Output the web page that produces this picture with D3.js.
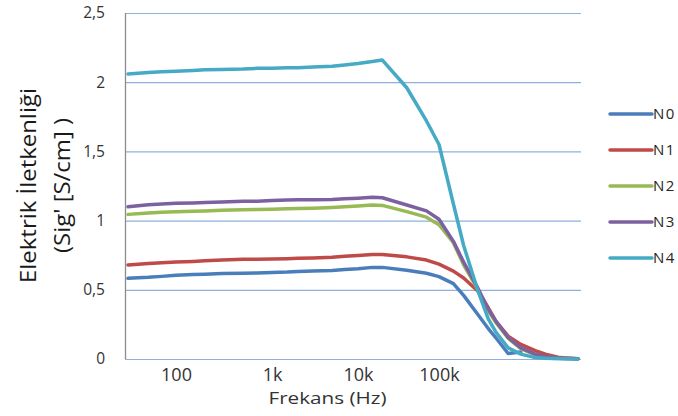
<!DOCTYPE html>
<html>
<head>
<meta charset="utf-8">
<script src="https://cdn.jsdelivr.net/npm/d3@7"></script>
<style>
  body { margin: 0; background: #fff; }
  text { font-family: "Open Sans", sans-serif; }
</style>
</head>
<body>
<div id="chart"></div>
<script>
// frequencies (Hz) of the measured points
const freqs = [30, 50, 70, 100, 150, 200, 300, 500, 700, 1e3, 1.5e3, 2e3, 3e3, 5e3, 7e3,
  1e4, 1.5e4, 2e4, 4e4, 7e4, 1e5, 1.5e5, 2e5, 3e5, 4e5, 5e5, 7e5, 1e6, 1.5e6, 2e6, 3e6, 5e6];

const n0 = [0.583, 0.59, 0.597, 0.605, 0.61, 0.613, 0.617, 0.62, 0.622, 0.625, 0.628, 0.632, 0.636, 0.64, 0.647,
  0.652, 0.662, 0.662, 0.642, 0.62, 0.595, 0.545, 0.46, 0.32, 0.22, 0.15, 0.04, 0.05, null, null, null, null];
const n1 = [0.68, 0.69, 0.695, 0.70, 0.705, 0.71, 0.715, 0.72, 0.72, 0.722, 0.725, 0.728, 0.73, 0.735, 0.742,
  0.748, 0.755, 0.755, 0.738, 0.715, 0.685, 0.635, 0.585, 0.49, 0.37, 0.27, 0.165, 0.105, 0.06, 0.035, 0.01, 0.002];
const n2 = [1.045, 1.055, 1.06, 1.064, 1.068, 1.07, 1.075, 1.078, 1.08, 1.082, 1.085, 1.088, 1.09, 1.095, 1.10,
  1.105, 1.112, 1.11, 1.065, 1.025, 0.97, 0.84, 0.68, 0.50, 0.35, 0.26, 0.15, 0.075, 0.03, 0.015, 0.005, 0.002];
const n3 = [1.10, 1.115, 1.12, 1.125, 1.128, 1.13, 1.135, 1.14, 1.14, 1.145, 1.148, 1.15, 1.15, 1.152, 1.158,
  1.162, 1.168, 1.165, 1.113, 1.07, 1.01, 0.85, 0.70, 0.51, 0.36, 0.27, 0.155, 0.08, 0.035, 0.018, 0.006, 0.002];
const n4 = [2.06, 2.07, 2.075, 2.08, 2.085, 2.09, 2.092, 2.095, 2.10, 2.10, 2.105, 2.105, 2.11, 2.115, 2.125,
  2.135, 2.15, 2.16, 1.96, 1.72, 1.55, 1.12, 0.82, 0.49, 0.29, 0.19, 0.08, 0.035, 0.01, 0.005, 0.002, 0];

const seriesNames = ["N0", "N1", "N2", "N3", "N4"];
const seriesValues = [n0, n1, n2, n3, n4];
const colors = ["#4A7EBB", "#BE4B48", "#98B954", "#7D60A0", "#46AAC5"];

const yTicks = [0, 0.5, 1, 1.5, 2, 2.5];
const xTicks = [100, 1e3, 1e4, 1e5];
const xLabels = ["100", "1k", "10k", "100k"];

const W = 678, H = 416;
const plot = {left: 125, right: 581, top: 13, bottom: 359};

const svg = d3.select("#chart").append("svg")
  .attr("width", W)
  .attr("height", H);

// category-like frequency axis: the labelled decades are not evenly spaced
const x = d3.scaleLog()
  .domain([30, 100, 1e3, 1e4, 1e5, 5e6])
  .range([128, 176, 272, 358, 439, 578]);

const y = d3.scaleLinear()
  .domain([0, 2.5])
  .range([plot.bottom, plot.top]);

// gridlines
svg.append("g")
  .selectAll("line")
  .data(yTicks)
  .join("line")
    .attr("x1", plot.left)
    .attr("x2", plot.right)
    .attr("y1", d => y(d) + 0.5)
    .attr("y2", d => y(d) + 0.5)
    .attr("stroke", "#8EB0DC")
    .attr("stroke-width", 1.2);

// y axis line
svg.append("line")
  .attr("x1", plot.left + 0.5).attr("x2", plot.left + 0.5)
  .attr("y1", plot.top).attr("y2", plot.bottom)
  .attr("stroke", "#8C8C8C")
  .attr("stroke-width", 1.3);

// y tick labels
svg.append("g")
  .attr("transform", `translate(${plot.left - 20},0)`)
  .call(d3.axisLeft(y).tickValues(yTicks).tickSize(0).tickPadding(0)
    .tickFormat(d => d3.format("~g")(d).replace(".", ",")))
  .call(g => g.select(".domain").remove())
  .selectAll("text")
    .style("font-size", "15.5px")
    .style("font-family", "Open Sans")
    .attr("fill", "#333");

// x tick labels
svg.append("g")
  .attr("transform", `translate(0,${plot.bottom})`)
  .call(d3.axisBottom(x).tickValues(xTicks).tickSize(0).tickPadding(9)
    .tickFormat((d, i) => xLabels[i]))
  .call(g => g.select(".domain").remove())
  .selectAll("text")
    .style("font-size", "18px")
    .style("font-family", "Open Sans")
    .attr("fill", "#333");

// x title
svg.append("text")
  .attr("x", 327.5)
  .attr("y", 404)
  .attr("text-anchor", "middle")
  .attr("textLength", 118)
  .attr("lengthAdjust", "spacingAndGlyphs")
  .style("font-size", "17px")
  .attr("fill", "#333")
  .text("Frekans (Hz)");

// y title, two lines
svg.append("text")
  .attr("transform", "translate(36,185.5) rotate(-90)")
  .attr("text-anchor", "middle")
  .attr("textLength", 195)
  .attr("lengthAdjust", "spacingAndGlyphs")
  .style("font-size", "22px")
  .attr("fill", "#1a1a1a")
  .text("Elektrik İletkenliği");

svg.append("text")
  .attr("transform", "translate(70,185.5) rotate(-90)")
  .attr("text-anchor", "middle")
  .attr("textLength", 135)
  .attr("lengthAdjust", "spacingAndGlyphs")
  .style("font-size", "22px")
  .attr("fill", "#1a1a1a")
  .text("(Sig' [S/cm] )");

// series lines
const line = d3.line()
  .defined(d => d[1] != null)
  .x(d => x(d[0]))
  .y(d => y(d[1]));

svg.append("g")
  .selectAll("path")
  .data(seriesValues)
  .join("path")
    .attr("d", vals => line(freqs.map((f, i) => [f, vals[i]])))
    .attr("fill", "none")
    .attr("stroke", (d, i) => colors[i])
    .attr("stroke-width", 3.5)
    .attr("stroke-linejoin", "round")
    .attr("stroke-linecap", "round");

// legend
const legend = svg.append("g")
  .selectAll("g")
  .data(seriesNames)
  .join("g")
    .attr("transform", (d, i) => `translate(610,${114 + i * 36})`);

legend.append("line")
  .attr("x1", 0).attr("x2", 42)
  .attr("stroke", (d, i) => colors[i])
  .attr("stroke-width", 3.5)
  .attr("stroke-linecap", "round");

legend.append("text")
  .attr("x", 43)
  .attr("dy", "0.36em")
  .style("font-size", "15px")
  .style("letter-spacing", "1.5px")
  .attr("fill", "#262626")
  .text(d => d);
</script>
</body>
</html>
